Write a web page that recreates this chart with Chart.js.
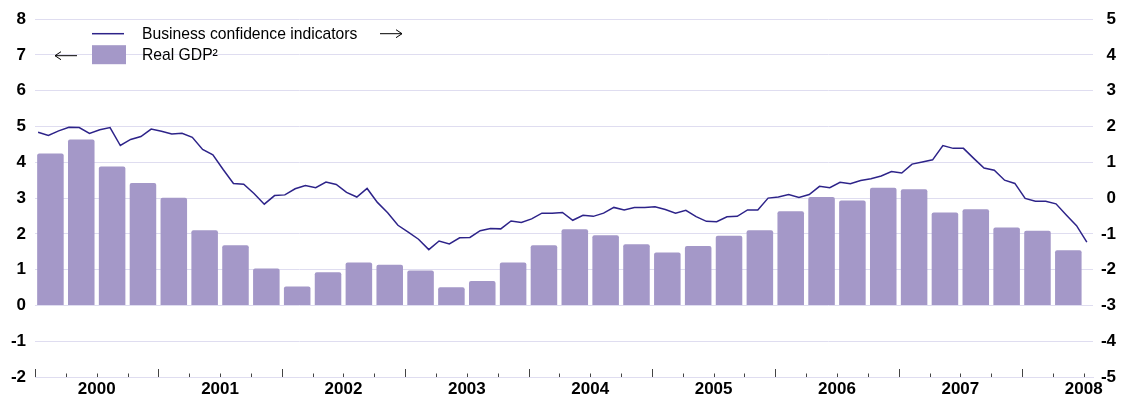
<!DOCTYPE html>
<html>
<head>
<meta charset="utf-8">
<script src="https://cdn.jsdelivr.net/npm/chart.js@4.4.1/dist/chart.umd.min.js"></script>
<style>
  html, body { margin: 0; padding: 0; background: #fff; }
  #wrap { width: 1126px; height: 401px; }
</style>
</head>
<body>
<div id="wrap"><canvas id="myChart" width="1126" height="401"></canvas></div>
<script>

// year labels, one per year, centred on the year
var yearLabels = ["2000", "2001", "2002", "2003", "2004", "2005", "2006", "2007", "2008"];

// real GDP, quarterly, 2000 Q1 - 2008 Q2 (left axis)
var gdp = [4.25, 4.64, 3.88, 3.42, 3.01, 2.10, 1.68, 1.03, 0.53, 0.93, 1.20, 1.14,
           0.98, 0.51, 0.68, 1.20, 1.68, 2.13, 1.96, 1.71, 1.48, 1.66, 1.95, 2.10,
           2.63, 3.03, 2.93, 3.29, 3.25, 2.60, 2.69, 2.18, 2.09, 1.54];

// business confidence indicators, monthly, Jan 2000 - Jul 2008 (right axis)
var confidence = [1.84, 1.75, 1.88, 1.98, 1.97, 1.81, 1.91, 1.97, 1.47, 1.64, 1.72, 1.93,
                  1.87, 1.79, 1.81, 1.70, 1.36, 1.21, 0.80, 0.41, 0.39, 0.13, -0.17, 0.07,
                  0.09, 0.26, 0.35, 0.29, 0.45, 0.38, 0.16, 0.03, 0.27, -0.12, -0.41, -0.76,
                  -0.95, -1.15, -1.44, -1.20, -1.28, -1.11, -1.10, -0.91, -0.85, -0.86, -0.64, -0.68,
                  -0.58, -0.42, -0.42, -0.40, -0.62, -0.48, -0.51, -0.42, -0.26, -0.33, -0.26, -0.26,
                  -0.24, -0.32, -0.42, -0.34, -0.52, -0.65, -0.66, -0.52, -0.51, -0.33, -0.33, 0.00,
                  0.03, 0.10, 0.02, 0.10, 0.33, 0.29, 0.44, 0.40, 0.49, 0.54, 0.62, 0.74,
                  0.70, 0.95, 1.01, 1.07, 1.47, 1.39, 1.39, 1.11, 0.84, 0.78, 0.50, 0.41,
                  -0.01, -0.09, -0.09, -0.16, -0.47, -0.77, -1.23];

var barColor = "#a498c8";
var lineColor = "#2d2389";
var gridColor = "#dfddf0";

Chart.defaults.font.family = "'Liberation Sans', Arial, sans-serif";
Chart.defaults.color = "#000";

// x is measured in quarters from the start of 2000
function barPoints() {
  var pts = [];
  for (var i = 0; i < gdp.length; i++) {
    pts.push({ x: i + 0.5, y: gdp[i] });
  }
  return pts;
}

function linePoints() {
  var pts = [];
  for (var i = 0; i < confidence.length; i++) {
    // one month = a third of a quarter
    pts.push({ x: (i + 0.3) / 3, y: confidence[i] });
  }
  return pts;
}

// quarter tick marks on the bottom axis, longer at the start of each year
var quarterTicks = {
  id: "quarterTicks",
  afterDatasetsDraw: function(chart) {
    var ctx = chart.ctx;
    var xs = chart.scales.x;
    var bottom = chart.chartArea.bottom;
    ctx.save();
    ctx.strokeStyle = "#444";
    ctx.lineWidth = 1;
    for (var k = 0; k <= gdp.length; k++) {
      var px = Math.round(xs.getPixelForValue(k)) + 0.5;
      var len = (k % 4 == 0) ? 8 : 3.5;
      ctx.beginPath();
      ctx.moveTo(px, bottom);
      ctx.lineTo(px, bottom - len);
      ctx.stroke();
    }
    ctx.restore();
  }
};

function arrow(ctx, x1, x2, y) {
  var dir = x2 > x1 ? 1 : -1;
  ctx.beginPath();
  ctx.moveTo(x1, y);
  ctx.lineTo(x2, y);
  ctx.moveTo(x2 - dir * 6, y - 4);
  ctx.lineTo(x2, y);
  ctx.lineTo(x2 - dir * 6, y + 4);
  ctx.stroke();
}

// legend drawn inside the plot, with the axis arrows
var legendBox = {
  id: "legendBox",
  afterDraw: function(chart) {
    var ctx = chart.ctx;
    var a = chart.chartArea;
    var x0 = a.left;
    var y0 = a.top;
    ctx.save();
    ctx.font = "15.7px 'Liberation Sans', Arial, sans-serif";
    ctx.fillStyle = "#000";
    ctx.textBaseline = "middle";

    ctx.strokeStyle = lineColor;
    ctx.lineWidth = 1.5;
    ctx.beginPath();
    ctx.moveTo(x0 + 57, y0 + 14.5);
    ctx.lineTo(x0 + 89, y0 + 14.5);
    ctx.stroke();
    ctx.fillText("Business confidence indicators", x0 + 107, y0 + 15);

    ctx.fillStyle = barColor;
    ctx.fillRect(x0 + 57, y0 + 26, 34, 19);
    ctx.fillStyle = "#000";
    ctx.fillText("Real GDP\u00b2", x0 + 107, y0 + 36);

    ctx.strokeStyle = "#000";
    ctx.lineWidth = 1;
    arrow(ctx, x0 + 345, x0 + 367, y0 + 14.5);
    arrow(ctx, x0 + 42, x0 + 20, y0 + 36.5);
    ctx.restore();
  }
};

function init() {
  var ctx = document.getElementById("myChart").getContext("2d");
  var myChart = new Chart(ctx, {
    type: "bar",
    data: {
      datasets: [{
        type: "line",
        label: "Business confidence indicators",
        data: linePoints(),
        yAxisID: "y2",
        borderColor: lineColor,
        borderWidth: 1.5,
        pointRadius: 0,
        tension: 0,
        clip: false,
        order: 0
      }, {
        type: "bar",
        label: "Real GDP\u00b2",
        data: barPoints(),
        yAxisID: "y",
        backgroundColor: barColor,
        borderRadius: 2,
        categoryPercentage: 1,
        barPercentage: 0.86,
        order: 1
      }]
    },
    options: {
      responsive: false,
      animation: false,
      layout: { padding: { top: 18, right: 10, left: 0, bottom: 0 } },
      plugins: {
        legend: { display: false },
        tooltip: { enabled: false }
      },
      scales: {
        x: {
          type: "linear",
          min: 0,
          max: 34.3,
          offset: false,
          grid: { display: false, offset: false, drawTicks: false },
          border: { display: true, color: gridColor, width: 1 },
          afterBuildTicks: function(scale) {
            scale.ticks = yearLabels.map(function(y, k) { return { value: 2 + 4 * k }; });
          },
          ticks: {
            autoSkip: false,
            maxRotation: 0,
            padding: 2,
            font: { size: 17, weight: "bold" },
            callback: function(value, index) { return yearLabels[index]; }
          },
          afterFit: function(scale) { scale.height = 24; }
        },
        y: {
          position: "left",
          min: -2,
          max: 8,
          ticks: { stepSize: 1, padding: 9, font: { size: 17, weight: "bold" } },
          grid: { color: gridColor, drawTicks: false },
          border: { display: false },
          afterFit: function(scale) { scale.width = 35; }
        },
        y2: {
          position: "right",
          min: -5,
          max: 5,
          ticks: { stepSize: 1, padding: 4, crossAlign: "far", font: { size: 17, weight: "bold" } },
          grid: { display: false, drawTicks: false },
          border: { display: false },
          afterFit: function(scale) { scale.width = 23; }
        }
      }
    },
    plugins: [quarterTicks, legendBox]
  });
}

init();
</script>
</body>
</html>
